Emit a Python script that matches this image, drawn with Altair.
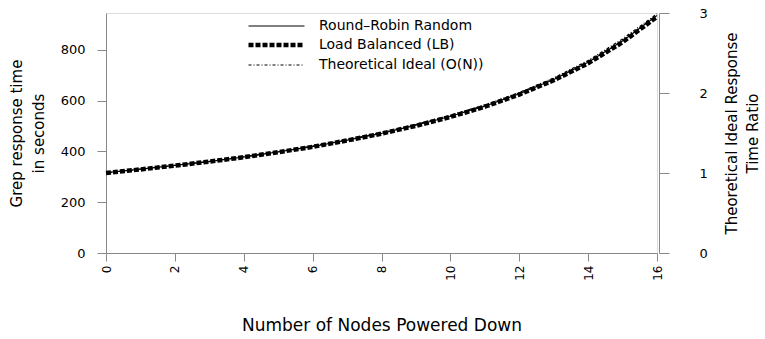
import altair as alt
import pandas as pd

# ---- data ----
nodes_down = [0, 1, 2, 3, 4, 5, 6, 7, 8, 9, 10, 11, 12, 13, 14, 15, 16]
round_robin = [316, 330, 345, 360, 378, 398, 419, 444, 471, 503, 538, 578, 627, 683, 751, 835, 935]
load_balanced = [315, 329, 344, 360, 377, 397, 418, 443, 470, 501, 536, 576, 624, 680, 747, 830, 930]
theoretical = [316, 330, 345, 361, 379, 399, 421, 446, 474, 506, 542, 583, 632, 689, 758, 843, 942]
series_names = ["Round\u2013Robin Random", "Load Balanced (LB)", "Theoretical Ideal (O(N))"]
x_ticks = [0, 2, 4, 6, 8, 10, 12, 14, 16]
left_ticks = [0, 200, 400, 600, 800]
ratio_ticks = [0, 1, 2, 3]

rows = []
for name, vals in zip(series_names, [round_robin, load_balanced, theoretical]):
    for xv, yv in zip(nodes_down, vals):
        rows.append({"nodes": xv, "time": yv, "series": name})
df = pd.DataFrame(rows)
ratio_df = pd.DataFrame({"ratio": ratio_ticks})

legend_cfg = alt.Legend(
    title=None, orient="none", legendX=161, legendY=5,
    symbolType="M-4,0H4", symbolSize=196, symbolStrokeColor="black",
    symbolFillColor="transparent",
    labelFont="DejaVu Sans", labelFontSize=14, labelColor="black", labelLimit=400,
    labelOffset=33, rowPadding=2.5, padding=0,
)

lines = alt.Chart(df).mark_line(color="black", strokeCap="butt", clip=False).encode(
    x=alt.X("nodes:Q",
            scale=alt.Scale(domain=[0, 16], nice=False, zero=False),
            axis=alt.Axis(values=x_ticks, title="Number of Nodes Powered Down", grid=False,
                          labelAngle=270, labelFont="DejaVu Sans", labelFontSize=12,
                          tickSize=8, labelPadding=4,
                          titleFont="DejaVu Sans", titleFontSize=17, titleFontWeight="normal",
                          titlePadding=37)),
    y=alt.Y("time:Q",
            scale=alt.Scale(domain=[0, 945], nice=False),
            axis=alt.Axis(values=left_ticks, title=["Grep response time", "in seconds"], grid=False,
                          labelFont="DejaVu Sans", labelFontSize=13,
                          tickSize=9, labelPadding=12,
                          titleFont="DejaVu Sans", titleFontSize=15, titleFontWeight="normal",
                          titleLineHeight=22, titlePadding=14)),
    strokeDash=alt.StrokeDash("series:N",
                              scale=alt.Scale(domain=series_names, range=[[1, 0], [5, 2], [3, 2, 1, 2]]),
                              legend=legend_cfg),
    strokeWidth=alt.StrokeWidth("series:N",
                                scale=alt.Scale(type="ordinal", domain=series_names, range=[1.2, 4.5, 1.2]),
                                legend=legend_cfg),
)

right = alt.Chart(ratio_df).mark_point(opacity=0).encode(
    y=alt.Y("ratio:Q",
            scale=alt.Scale(domain=[0, 3], nice=False),
            axis=alt.Axis(orient="right", values=ratio_ticks, grid=False,
                          title=["Theoretical Ideal Response", "Time Ratio"],
                          titleAngle=270, offset=2,
                          labelFont="DejaVu Sans", labelFontSize=13,
                          tickSize=10, labelPadding=30,
                          titleFont="DejaVu Sans", titleFontSize=15, titleFontWeight="normal",
                          titleLineHeight=21, titlePadding=11)),
)

chart = alt.layer(lines, right).resolve_scale(y="independent").properties(
    width=551, height=240,
    autosize=alt.AutoSizeParams(type="none"),
    padding={"left": 106, "top": 13, "right": 108, "bottom": 86},
).configure_view(stroke=None).configure_axis(
    grid=False, domainColor="black", tickColor="black", labelColor="black",
    titleColor="black", domainWidth=1, tickWidth=1,
).configure(background="white")

chart.save("out.html", embed_options={"renderer": "svg", "actions": False})
